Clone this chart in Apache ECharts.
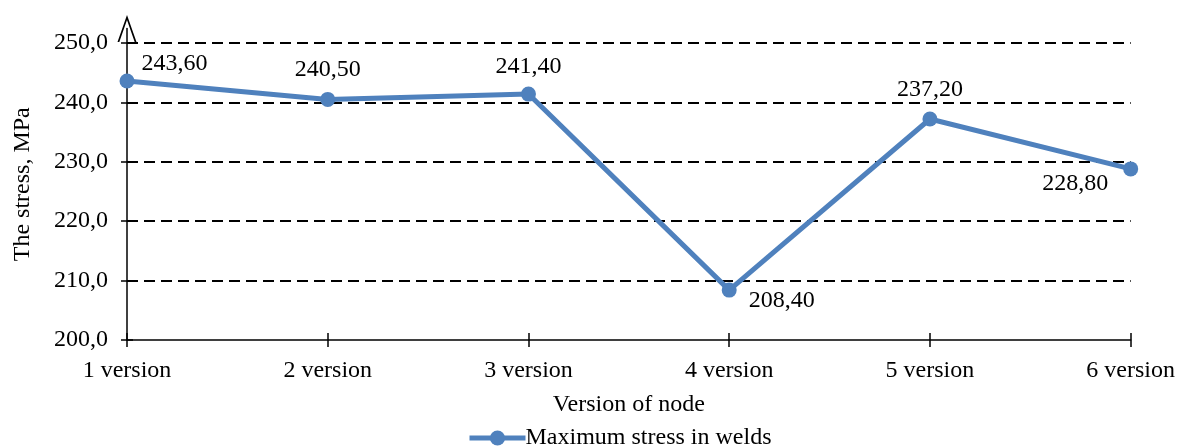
<!DOCTYPE html>
<html>
<head>
<meta charset="utf-8">
<script src="https://cdn.jsdelivr.net/npm/echarts@6/dist/echarts.min.js"></script>
<style>
  html, body { margin: 0; padding: 0; background: #fff; }
  #chart { width: 1178px; height: 448px; }
</style>
</head>
<body>
<div id="chart"></div>
<script>
// Maximum stress in welds for each node version
const categories = ['1 version', '2 version', '3 version', '4 version', '5 version', '6 version'];
const stressValues = [243.6, 240.5, 241.4, 208.4, 237.2, 228.8];
const yTickValues = [200, 210, 220, 230, 240, 250];

const seriesName = 'Maximum stress in welds';
const FONT = 'Liberation Serif';
const FS = 24;
const BLUE = '#4F81BD';

// where each value label sits around its point
const labelPlacement = [
  { position: 'right', offset: [2, -17] },
  { position: 'top', offset: [0, -5] },
  { position: 'top', offset: [0, -3] },
  { position: 'right', offset: [7, 11] },
  { position: 'top', offset: [0, -5] },
  { position: 'left', offset: [-10, 15] }
];

const fmtComma = (v, d) => v.toFixed(d).replace('.', ',');

// open "V" arrow head for the top of the value axis
const arrowPath = 'path://M0,27 L9.5,0 L19,27 L17.2,27 L9.5,5 L1.8,27 Z';

const textBase = { fontFamily: FONT, fontSize: FS, color: '#000' };
const tickStyle = { color: '#000', width: 1.5 };

const chart = echarts.init(document.getElementById('chart'));
chart.setOption({
  animation: false,
  backgroundColor: '#fff',
  textStyle: { fontFamily: FONT },
  grid: { left: 127, right: 47, top: 28.5, bottom: 108, containLabel: false },
  legend: {
    bottom: -2,
    left: 467,
    padding: 0,
    itemWidth: 56,
    itemHeight: 19,
    itemGap: 0,
    lineStyle: { width: 5 },
    textStyle: Object.assign({}, textBase, { padding: [0, 0, 0, -5] }),
    data: [seriesName]
  },
  xAxis: [
    {
      type: 'category',
      data: categories,
      boundaryGap: false,
      name: 'Version of node',
      nameLocation: 'middle',
      nameGap: 53,
      nameTextStyle: textBase,
      axisLine: { lineStyle: { color: '#000', width: 1.5 } },
      axisTick: { show: true, inside: false, length: 7, lineStyle: tickStyle },
      axisLabel: Object.assign({}, textBase, { margin: 19 }),
      splitLine: { show: false }
    },
    {
      // second tick row drawn inward so the ticks cross the axis line
      type: 'category',
      data: categories,
      boundaryGap: false,
      position: 'bottom',
      axisLine: { show: false },
      axisTick: { show: true, inside: true, length: 7, lineStyle: tickStyle },
      axisLabel: { show: false },
      splitLine: { show: false }
    }
  ],
  yAxis: [
    {
      type: 'value',
      min: 200,
      max: 252.44,
      interval: 10,
      name: 'The stress, MPa',
      nameLocation: 'middle',
      nameGap: 92,
      nameTextStyle: textBase,
      axisLine: {
        show: true,
        symbol: ['none', arrowPath],
        symbolSize: [19, 27],
        lineStyle: { color: '#000', width: 1.5 }
      },
      axisTick: {
        show: true, inside: false, length: 6,
        customValues: yTickValues,
        lineStyle: tickStyle
      },
      axisLabel: Object.assign({}, textBase, {
        margin: 19,
        customValues: yTickValues,
        formatter: v => fmtComma(v, 1)
      }),
      splitLine: {
        show: true,
        showMinLine: false,
        showMaxLine: true,
        lineStyle: { color: '#000', width: 2, type: [11, 6] }
      }
    },
    {
      // inward ticks for the value axis
      type: 'value',
      min: 200,
      max: 252.44,
      interval: 10,
      position: 'left',
      axisLine: { show: false },
      axisTick: {
        show: true, inside: true, length: 6,
        customValues: yTickValues,
        lineStyle: tickStyle
      },
      axisLabel: { show: false },
      splitLine: { show: false }
    }
  ],
  series: [
    {
      name: seriesName,
      type: 'line',
      xAxisIndex: 0,
      yAxisIndex: 0,
      symbol: 'circle',
      symbolSize: 15,
      color: BLUE,
      lineStyle: { color: BLUE, width: 5 },
      itemStyle: { color: BLUE },
      label: Object.assign({}, textBase, {
        show: true,
        formatter: p => fmtComma(p.value, 2)
      }),
      data: stressValues.map((v, i) => ({
        value: v,
        label: labelPlacement[i]
      })),
      z: 5
    }
  ]
});
</script>
</body>
</html>
